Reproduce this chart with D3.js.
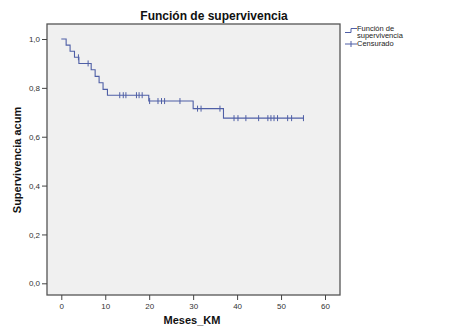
<!DOCTYPE html>
<html>
<head>
<meta charset="utf-8">
<script src="https://cdn.jsdelivr.net/npm/d3@7"></script>
<style>
  body { margin: 0; background: #fff; }
  text { font-family: "Liberation Sans", Arial, sans-serif; }
</style>
</head>
<body>
<div id="km-chart"></div>
<script>
// step function (months, cumulative survival)
const stepTimes = [0, 1.1, 2.0, 3.0, 4.0, 6.8, 7.7, 8.6, 9.5, 10.5, 19.9, 30.0, 36.9, 55.2]
const stepSurv  = [1.0, 0.975, 0.95, 0.925, 0.90, 0.874, 0.847, 0.821, 0.794, 0.770, 0.746, 0.715, 0.676, 0.676]
// censored cases (months)
const censorTimes = [3.9, 6.1, 13.3, 14.1, 14.7, 17.1, 17.7, 18.4, 20.1, 22.0, 22.8, 23.5, 27.0,
  31.0, 31.8, 36.1, 39.3, 40.2, 42.0, 44.9, 47.0, 47.7, 48.4, 49.2, 51.5, 52.4, 55.1]
const xTicks = [0, 10, 20, 30, 40, 50, 60]
const yTicks = [0, 0.2, 0.4, 0.6, 0.8, 1.0]

const width = 455, height = 336
const box = { left: 47, top: 24, right: 340, bottom: 295 }
const lineColor = "#4f5fa6"

let svg = d3.select("#km-chart").append("svg")
  .attr("width", width)
  .attr("height", height)

let xScale = d3.scaleLinear().domain([0, 60]).range([61.3, 325])
let yScale = d3.scaleLinear().domain([0, 1]).range([283.3, 39])

// plot frame
svg.append("rect")
  .attr("x", box.left).attr("y", box.top)
  .attr("width", box.right - box.left).attr("height", box.bottom - box.top)
  .attr("fill", "#f0f0f0")
  .attr("stroke", "#555").attr("stroke-width", 1.3)

const commaFmt = d => d3.format(".1f")(d).replace(".", ",")

let yAxis = d3.axisLeft(yScale).tickValues(yTicks).tickSize(5).tickPadding(2).tickFormat(commaFmt)
let xAxis = d3.axisBottom(xScale).tickValues(xTicks).tickSize(5).tickPadding(3)

let gy = svg.append("g").attr("transform", `translate(${box.left},0)`).call(yAxis)
let gx = svg.append("g").attr("transform", `translate(0,${box.bottom})`).call(xAxis)
gy.select(".domain").remove()
gx.select(".domain").remove()
svg.selectAll(".tick line").attr("stroke", "#444")
svg.selectAll(".tick text").attr("fill", "#333").style("font-size", "8px")

// survival curve
let stepData = stepTimes.map((t, i) => ({ t: t, s: stepSurv[i] }))
let line = d3.line().x(d => xScale(d.t)).y(d => yScale(d.s)).curve(d3.curveStepAfter)

svg.append("path")
  .datum(stepData)
  .attr("d", line)
  .attr("fill", "none")
  .attr("stroke", lineColor)
  .attr("stroke-width", 1.1)

// censor marks sit on the curve
const survAt = t => stepSurv[d3.bisectRight(stepTimes, t) - 1]
svg.append("g").selectAll("line")
  .data(censorTimes)
  .enter().append("line")
  .attr("x1", d => xScale(d)).attr("x2", d => xScale(d))
  .attr("y1", d => yScale(survAt(d)) - 3)
  .attr("y2", d => yScale(survAt(d)) + 3)
  .attr("stroke", lineColor)
  .attr("stroke-width", 1)

// titles
svg.append("text")
  .attr("x", 214).attr("y", 20)
  .attr("text-anchor", "middle")
  .style("font-size", "12px").style("font-weight", "bold")
  .attr("fill", "#111")
  .text("Función de supervivencia")

svg.append("text")
  .attr("x", 192).attr("y", 324)
  .attr("text-anchor", "middle")
  .style("font-size", "11px").style("font-weight", "bold")
  .attr("fill", "#111")
  .text("Meses_KM")

svg.append("text")
  .attr("transform", "translate(21,160) rotate(-90)")
  .attr("text-anchor", "middle")
  .style("font-size", "11px").style("font-weight", "bold")
  .attr("fill", "#111")
  .text("Supervivencia acum")

// legend
let legend = svg.append("g").attr("transform", "translate(345,0)")
legend.append("path")
  .attr("d", "M0,32.5 H6 V28.5 H12")
  .attr("fill", "none").attr("stroke", lineColor).attr("stroke-width", 1)
legend.append("line")
  .attr("x1", 0).attr("x2", 12).attr("y1", 44).attr("y2", 44)
  .attr("stroke", lineColor)
legend.append("line")
  .attr("x1", 6).attr("x2", 6).attr("y1", 41).attr("y2", 47)
  .attr("stroke", lineColor)

const legendLines = [["Función de", 30.5], ["supervivencia", 38], ["Censurado", 46]]
legend.selectAll("text.lg")
  .data(legendLines)
  .enter().append("text")
  .attr("class", "lg")
  .attr("x", 12).attr("y", d => d[1])
  .style("font-size", "7.5px")
  .attr("fill", "#222")
  .text(d => d[0])
</script>
</body>
</html>
